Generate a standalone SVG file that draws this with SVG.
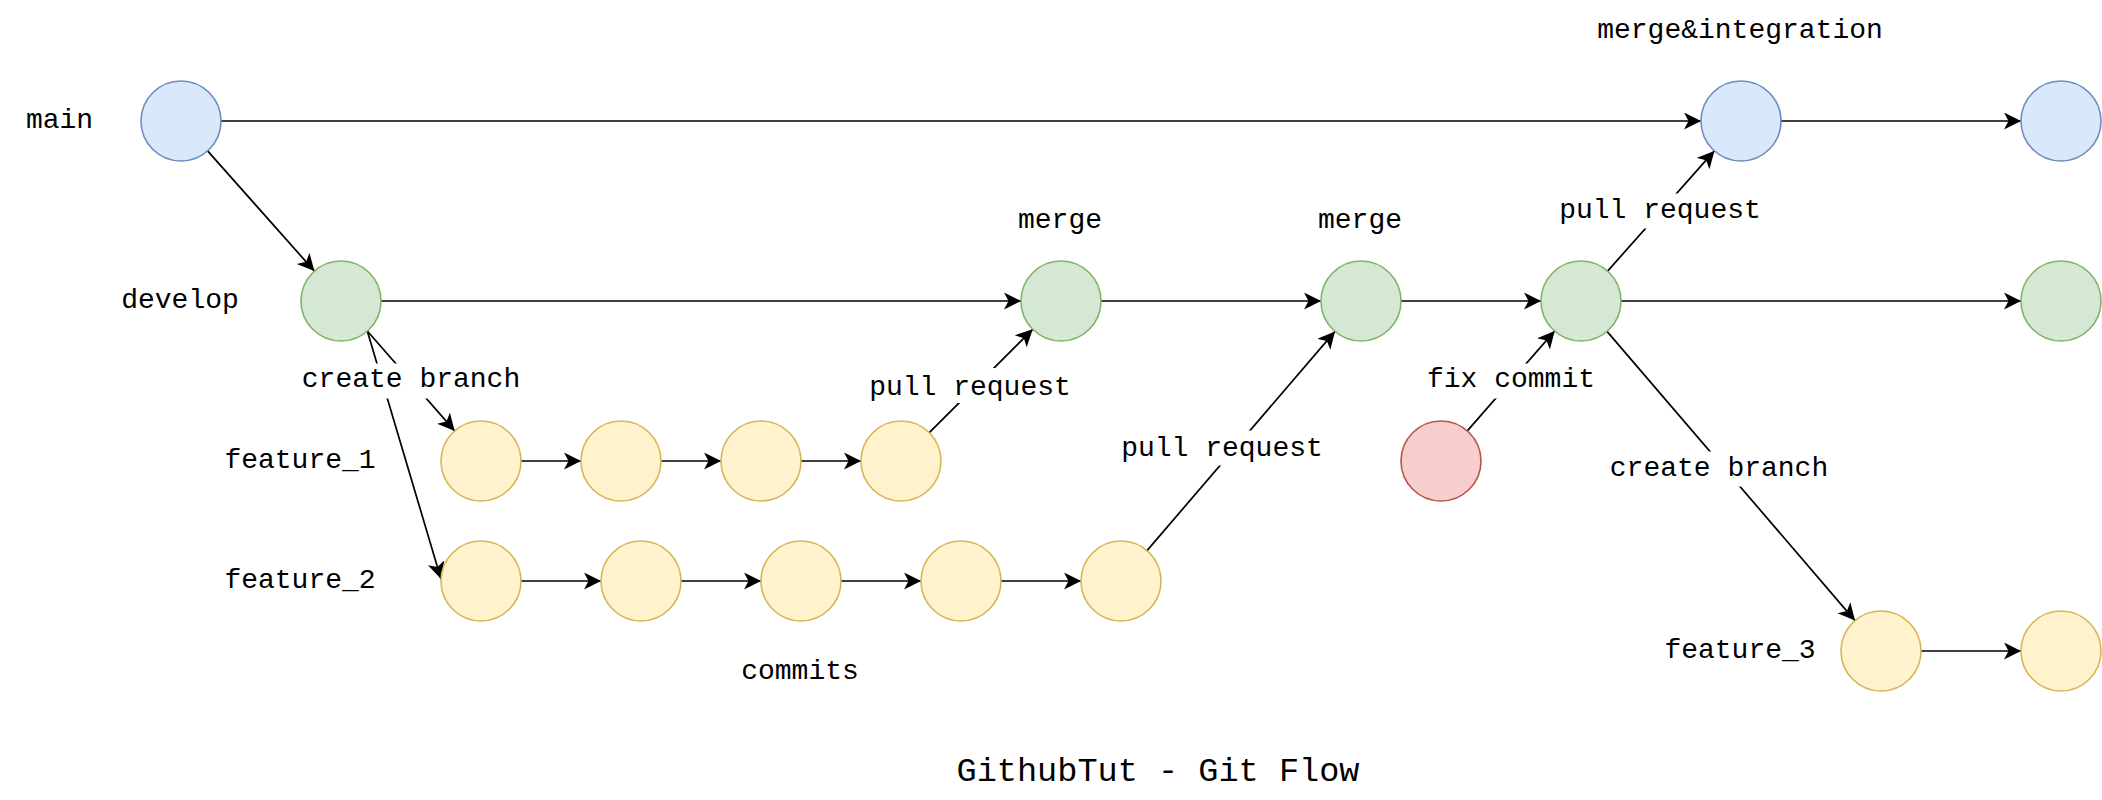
<svg xmlns="http://www.w3.org/2000/svg" width="2102" height="800" viewBox="0 0 2102 800">
<style>
  .t { font-family: "Liberation Mono", "Courier New", monospace; font-size: 28px; fill: #000; text-anchor: middle; }
  .title { font-size: 33.6px; }
  .e { stroke: #000; stroke-width: 1.6; fill: none; }
  .ea { stroke: #000; stroke-width: 1.7; fill: none; marker-end: url(#arr); }
  .bg { fill: #fff; stroke: none; }
  .blue { fill: #dae8fc; stroke: #6c8ebf; stroke-width: 1.6; }
  .green { fill: #d5e8d4; stroke: #82b366; stroke-width: 1.6; }
  .yellow { fill: #fff2cc; stroke: #d6b656; stroke-width: 1.6; }
  .red { fill: #f8cecc; stroke: #b85450; stroke-width: 1.6; }
</style>
<defs>
  <marker id="arr" markerUnits="userSpaceOnUse" markerWidth="18" markerHeight="18" refX="17" refY="8.5" orient="auto">
    <path d="M0,0 L17,8.5 L0,17 L4.5,8.5 Z" fill="#000"/>
  </marker>
</defs>
<rect width="2102" height="800" fill="#fff"/>

<g id="connectors">
  <path class="ea" d="M221,121 H1701"/>
  <path class="ea" d="M1781,121 H2021"/>
  <path class="ea" d="M207.6,150.9 L314.4,271.1"/>
  <path class="ea" d="M381,301 H1021"/>
  <path class="ea" d="M1101,301 H1321"/>
  <path class="ea" d="M1401,301 H1541"/>
  <path class="ea" d="M1621,301 H2021"/>
  <path class="ea" d="M1607.6,271.1 L1714.4,150.9"/>
  <path class="ea" d="M367.3,331 L454.7,430.9"/>
  <path class="ea" d="M367.3,331 L441,579"/>
  <path class="ea" d="M521,461 H581"/>
  <path class="ea" d="M661,461 H721"/>
  <path class="ea" d="M801,461 H861"/>
  <path class="ea" d="M929.3,432.7 L1032.7,329.3"/>
  <path class="ea" d="M521,581 H601"/>
  <path class="ea" d="M681,581 H761"/>
  <path class="ea" d="M841,581 H921"/>
  <path class="ea" d="M1001,581 H1081"/>
  <path class="ea" d="M1147,550.6 L1335,331.4"/>
  <path class="ea" d="M1467.3,430.9 L1554.7,331"/>
  <path class="ea" d="M1607,331.4 L1855,620.6"/>
  <path class="ea" d="M1921,651 H2021"/>

  <g id="label-create-branch-1">
    <rect class="bg" x="300" y="363.5" width="222" height="35"/>
    <text class="t" x="411" y="387">create branch</text>
  </g>
  <g id="label-pull-request-1">
    <rect class="bg" x="868" y="368" width="204" height="35"/>
    <text class="t" x="970" y="395">pull request</text>
  </g>
  <g id="label-pull-request-2">
    <rect class="bg" x="1120" y="430.5" width="204" height="35"/>
    <text class="t" x="1222" y="455.5">pull request</text>
  </g>
  <g id="label-fix-commit">
    <rect class="bg" x="1425" y="363.5" width="172" height="35"/>
    <text class="t" x="1511" y="387">fix commit</text>
  </g>
  <g id="label-create-branch-2">
    <rect class="bg" x="1607" y="451.5" width="224" height="35"/>
    <text class="t" x="1719" y="476">create branch</text>
  </g>
  <g id="label-pull-request-3">
    <rect class="bg" x="1558" y="193.5" width="204" height="35"/>
    <text class="t" x="1660" y="218">pull request</text>
  </g>
</g>

<g id="main-0"><circle class="blue" cx="181" cy="121" r="40"/></g>
<g id="main-1"><circle class="blue" cx="1741" cy="121" r="40"/></g>
<g id="main-2"><circle class="blue" cx="2061" cy="121" r="40"/></g>

<g id="develop-0"><circle class="green" cx="341" cy="301" r="40"/></g>
<g id="develop-1"><circle class="green" cx="1061" cy="301" r="40"/></g>
<g id="develop-2"><circle class="green" cx="1361" cy="301" r="40"/></g>
<g id="develop-3"><circle class="green" cx="1581" cy="301" r="40"/></g>
<g id="develop-4"><circle class="green" cx="2061" cy="301" r="40"/></g>

<g id="feature1-0"><circle class="yellow" cx="481" cy="461" r="40"/></g>
<g id="feature1-1"><circle class="yellow" cx="621" cy="461" r="40"/></g>
<g id="feature1-2"><circle class="yellow" cx="761" cy="461" r="40"/></g>
<g id="feature1-3"><circle class="yellow" cx="901" cy="461" r="40"/></g>

<g id="feature2-0"><circle class="yellow" cx="481" cy="581" r="40"/></g>
<g id="feature2-1"><circle class="yellow" cx="641" cy="581" r="40"/></g>
<g id="feature2-2"><circle class="yellow" cx="801" cy="581" r="40"/></g>
<g id="feature2-3"><circle class="yellow" cx="961" cy="581" r="40"/></g>
<g id="feature2-4"><circle class="yellow" cx="1121" cy="581" r="40"/></g>

<g id="fix"><circle class="red" cx="1441" cy="461" r="40"/></g>

<g id="feature3-0"><circle class="yellow" cx="1881" cy="651" r="40"/></g>
<g id="feature3-1"><circle class="yellow" cx="2061" cy="651" r="40"/></g>

<g id="label-main"><text class="t" x="59.5" y="128">main</text></g>
<g id="label-develop"><text class="t" x="180" y="308">develop</text></g>
<g id="label-feature1"><text class="t" x="300" y="467.5">feature_1</text></g>
<g id="label-feature2"><text class="t" x="300" y="587.5">feature_2</text></g>
<g id="label-feature3"><text class="t" x="1740" y="658">feature_3</text></g>
<g id="label-merge-integration"><text class="t" x="1740" y="38">merge&amp;integration</text></g>
<g id="label-merge-1"><text class="t" x="1060" y="228">merge</text></g>
<g id="label-merge-2"><text class="t" x="1360" y="228">merge</text></g>
<g id="label-commits"><text class="t" x="800" y="679">commits</text></g>
<g id="label-title"><text class="t title" x="1158" y="781">GithubTut - Git Flow</text></g>
</svg>
